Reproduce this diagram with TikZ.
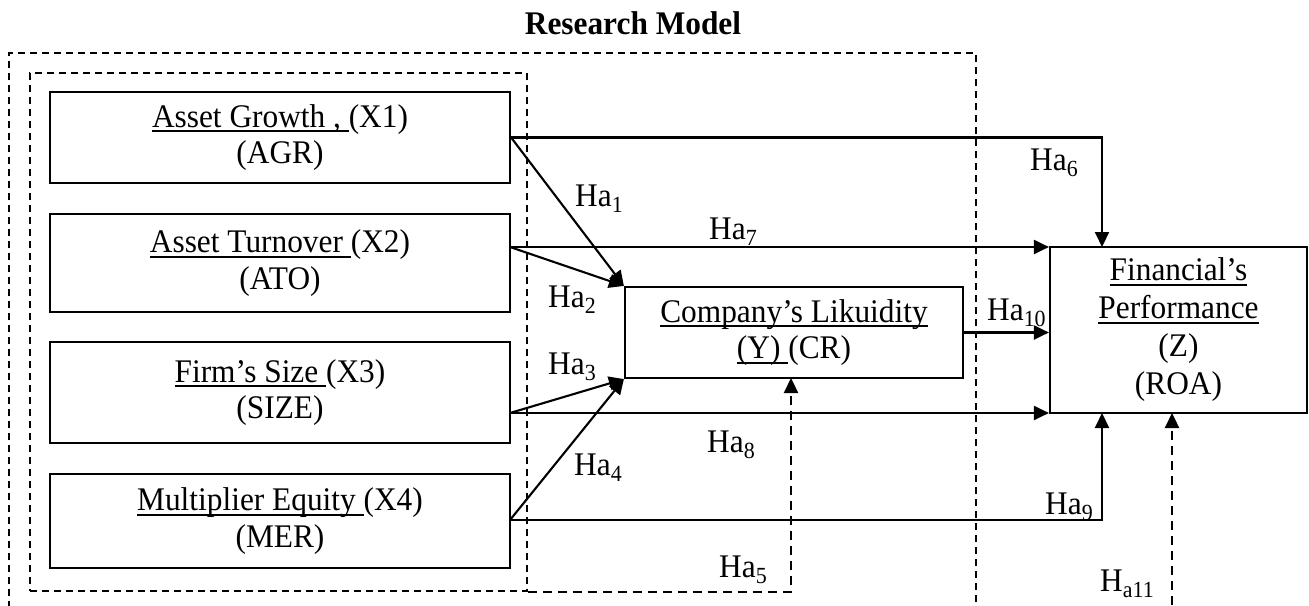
\documentclass[tikz,border=0pt]{standalone}
\usepackage{fontspec}
\setmainfont[FakeStretch=0.95]{Liberation Serif}
\usetikzlibrary{arrows.meta,calc}
\newcommand\ulx[1]{\setbox0=\hbox{#1}\leavevmode\rlap{\rule[-5pt]{\wd0}{1.8pt}}\box0}
\tikzset{
  base/.style={font=\fontsize{33}{36.5}\selectfont},
  varbox/.style={base, draw, line width=2.2pt, align=center, inner sep=0pt},
  lab/.style={base, inner sep=0pt, anchor=base west},
  conn/.style={line width=2.1pt},
  arr/.style={conn, -{Triangle[length=15pt,width=14pt]}},
  dashbox/.style={line width=1.8pt, dash pattern=on 7pt off 5pt},
  darr/.style={line width=2.3pt, dash pattern=on 9pt off 6pt, -{Triangle[length=15pt,width=14pt]}},
}
\begin{document}
\begin{tikzpicture}[x=1pt,y=-1pt]
\useasboundingbox (0,0) rectangle (1309,605);
\clip (0,0) rectangle (1309,605);
\node[font=\fontsize{33}{36}\selectfont\bfseries, anchor=base, inner sep=0pt] (title) at (633,34) {Research Model};
% outer dashed frame (bottom lies below the picture)
\draw[dashbox] (9,620) -- (9,53) -- (976,53) -- (976,620);
% inner dashed frame
\node[draw, dashbox, minimum width=497pt, minimum height=518pt, inner sep=0pt] (ib) at (278.5,332) {};
% variable boxes
\node[varbox, minimum width=460pt, minimum height=91pt] (b1) at (280,137.5) {\ulx{Asset Growth , }(X1)\\(AGR)};
\node[varbox, minimum width=460pt, minimum height=98pt] (b2) at (280,263) {\ulx{Asset Turnover }(X2)\\(ATO)};
\node[varbox, minimum width=460pt, minimum height=101pt] (b3) at (280,392.5) {\ulx{Firm’s Size }(X3)\\(SIZE)};
\node[varbox, minimum width=460pt, minimum height=94pt] (b4) at (280,521) {\ulx{Multiplier Equity }(X4)\\(MER)};
\node[varbox, minimum width=338pt, minimum height=91pt] (cl) at (794,332.5) {\ulx{Company’s Likuidity}\\\ulx{(Y) }(CR)};
\node[varbox, minimum width=257pt, minimum height=166pt, font=\fontsize{33}{38}\selectfont] (fp) at (1178.5,330) {\ulx{Financial’s}\\\ulx{Performance}\\(Z)\\(ROA)};
% connector points
\coordinate (s1) at (b1.east);
\coordinate (s2) at (510,247);
\coordinate (s3) at (510,413);
\coordinate (s4) at (510,520);
\coordinate (k6) at (1102,247);
\coordinate (k9) at (1102,413);
\coordinate (k5) at (791,378);
\coordinate (k11) at (1172,413);
\coordinate (e11) at (1172,620);
% connectors
\draw[arr] (s1) -- (cl.north west);
\draw[arr] (s2) -- (cl.north west);
\draw[arr] (s3) -- (cl.south west);
\draw[arr] (s4) -- (cl.south west);
\draw[arr] (s2) -- (s2 -| fp.west);
\draw[arr] (s3) -- (s3 -| fp.west);
\draw[arr] (s1) -| (k6);
\draw[arr] (s4) -| (k9);
\draw[arr] (cl.east) -- (cl.east -| fp.west);
\draw[darr] (ib.south east) -| (k5);
\draw[darr] (e11) -- (k11);
% labels
\node[lab] (h1) at (575,206) {Ha\textsubscript{1}};
\node[lab] (h2) at (548,307) {Ha\textsubscript{2}};
\node[lab] (h3) at (548,374) {Ha\textsubscript{3}};
\node[lab] (h4) at (574,475) {Ha\textsubscript{4}};
\node[lab] (h5) at (719,577) {Ha\textsubscript{5}};
\node[lab] (h6) at (1030,170) {Ha\textsubscript{6}};
\node[lab] (h7) at (709,239) {Ha\textsubscript{7}};
\node[lab] (h8) at (707,452) {Ha\textsubscript{8}};
\node[lab] (h9) at (1045,514) {Ha\textsubscript{9}};
\node[lab] (h10) at (987,320) {Ha\textsubscript{10}};
\node[lab] (h11) at (1100,591) {H\textsubscript{a11}};
\end{tikzpicture}
\end{document}
